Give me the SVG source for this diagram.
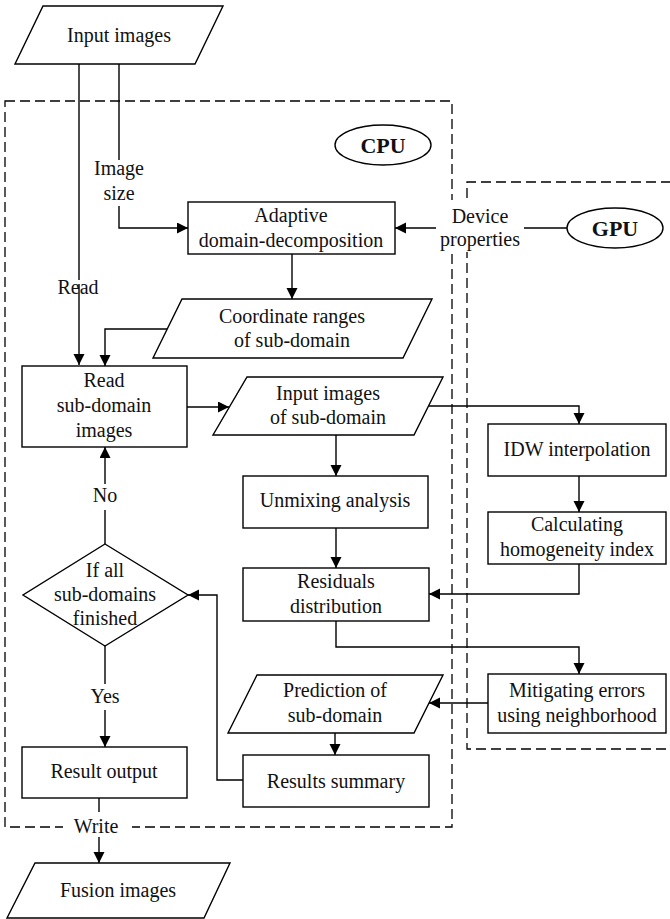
<svg xmlns="http://www.w3.org/2000/svg" width="670" height="919" viewBox="0 0 670 919">
<defs>
<marker id="arr" markerUnits="userSpaceOnUse" markerWidth="12" markerHeight="12" refX="11" refY="5.5" orient="auto">
<path d="M0,0 L11,5.5 L0,11 z" fill="#000"/>
</marker>
<style>
.n{fill:#fff;stroke:#000;stroke-width:1.4}
.t{font-family:"Liberation Serif","Times New Roman",serif;font-size:20px;fill:#111;text-anchor:middle}
.b{font-weight:bold;font-size:22px}
.c{fill:none;stroke:#000;stroke-width:1.4}
.d{fill:none;stroke:#000;stroke-width:1.3;stroke-dasharray:10,5}
.w{fill:#fff;stroke:none}
</style>
</defs>
<rect width="670" height="919" fill="#fff"/>
<g id="containers">
<rect id="cpu-region" class="d" x="5" y="101" width="447" height="726"/>
<path id="gpu-region" class="d" d="M671,182 H467 V749 H671"/>
</g>
<g id="connectors">
<path class="c" d="M79,64 V365" marker-end="url(#arr)"/>
<path class="c" d="M119,64 V228 H188" marker-end="url(#arr)"/>
<path class="c" d="M567,228 H395" marker-end="url(#arr)"/>
<path class="c" d="M292,254 V299" marker-end="url(#arr)"/>
<path class="c" d="M167,329 H105 V366" marker-end="url(#arr)"/>
<path class="c" d="M187,407 H229" marker-end="url(#arr)"/>
<path class="c" d="M429,406 H579 V424" marker-end="url(#arr)"/>
<path class="c" d="M336,435 V476" marker-end="url(#arr)"/>
<path class="c" d="M579,476 V512" marker-end="url(#arr)"/>
<path class="c" d="M579,564 V594 H429" marker-end="url(#arr)"/>
<path class="c" d="M336,528 V568" marker-end="url(#arr)"/>
<path class="c" d="M336,621 V647 H579 V674" marker-end="url(#arr)"/>
<path class="c" d="M488,703 H429" marker-end="url(#arr)"/>
<path class="c" d="M335,733 V755" marker-end="url(#arr)"/>
<path class="c" d="M243,780 H217 V595 H188" marker-end="url(#arr)"/>
<path class="c" d="M105,544 V447" marker-end="url(#arr)"/>
<path class="c" d="M105,646 V747" marker-end="url(#arr)"/>
<path class="c" d="M99,798 V863" marker-end="url(#arr)"/>
</g>
<g id="labels">
<rect class="w" x="96" y="160" width="46" height="46"/>
<text class="t" x="119" y="175">Image</text>
<text class="t" x="119" y="200">size</text>
<rect class="w" x="436" y="200" width="88" height="52"/>
<text class="t" x="480" y="223">Device</text>
<text class="t" x="480" y="246">properties</text>
<rect class="w" x="58" y="280" width="40" height="4"/>
<text class="t" x="78" y="294">Read</text>
<rect class="w" x="92" y="484" width="26" height="26"/>
<text class="t" x="105" y="502">No</text>
<rect class="w" x="89" y="684" width="32" height="26"/>
<text class="t" x="105" y="703">Yes</text>
<rect class="w" x="63" y="812" width="69" height="25"/>
<text class="t" x="96" y="833">Write</text>
</g>
<g id="input-images">
<polygon class="n" points="43,6 223,6 195,64 15,64"/>
<text class="t" x="119" y="42">Input images</text>
</g>
<g id="cpu">
<ellipse class="n" cx="383" cy="145" rx="48" ry="20"/>
<text class="t b" x="383" y="153">CPU</text>
</g>
<g id="gpu">
<ellipse class="n" cx="615" cy="228" rx="48" ry="20"/>
<text class="t b" x="615" y="236">GPU</text>
</g>
<g id="adaptive">
<rect class="n" x="188" y="202" width="207" height="52"/>
<text class="t" x="291" y="222">Adaptive</text>
<text class="t" x="291" y="247">domain-decomposition</text>
</g>
<g id="coordinate-ranges">
<polygon class="n" points="182,299 432,299 403,358 153,358"/>
<text class="t" x="292" y="323">Coordinate ranges</text>
<text class="t" x="292" y="347">of sub-domain</text>
</g>
<g id="read-sub-domain">
<rect class="n" x="22" y="366" width="165" height="81"/>
<text class="t" x="104" y="387">Read</text>
<text class="t" x="104" y="412">sub-domain</text>
<text class="t" x="104" y="437">images</text>
</g>
<g id="input-sub-domain">
<polygon class="n" points="247,377 443,377 414,435 213,435"/>
<text class="t" x="328" y="400">Input images</text>
<text class="t" x="328" y="424">of sub-domain</text>
</g>
<g id="idw">
<rect class="n" x="488" y="424" width="178" height="52"/>
<text class="t" x="577" y="456">IDW interpolation</text>
</g>
<g id="homogeneity">
<rect class="n" x="488" y="512" width="178" height="52"/>
<text class="t" x="577" y="531">Calculating</text>
<text class="t" x="577" y="556">homogeneity index</text>
</g>
<g id="unmixing">
<rect class="n" x="243" y="476" width="185" height="52"/>
<text class="t" x="335" y="507">Unmixing analysis</text>
</g>
<g id="residuals">
<rect class="n" x="243" y="568" width="186" height="53"/>
<text class="t" x="336" y="588">Residuals</text>
<text class="t" x="336" y="613">distribution</text>
</g>
<g id="decision">
<polygon class="n" points="105,544 188,595 105,646 23,595"/>
<text class="t" x="105" y="577">If all</text>
<text class="t" x="105" y="601">sub-domains</text>
<text class="t" x="105" y="625">finished</text>
</g>
<g id="mitigating">
<rect class="n" x="488" y="674" width="178" height="59"/>
<text class="t" x="577" y="697">Mitigating errors</text>
<text class="t" x="577" y="722">using neighborhood</text>
</g>
<g id="prediction">
<polygon class="n" points="257,675 443,675 414,733 228,733"/>
<text class="t" x="335" y="697">Prediction of</text>
<text class="t" x="335" y="722">sub-domain</text>
</g>
<g id="results-summary">
<rect class="n" x="243" y="755" width="186" height="52"/>
<text class="t" x="336" y="788">Results summary</text>
</g>
<g id="result-output">
<rect class="n" x="22" y="747" width="165" height="51"/>
<text class="t" x="104" y="778">Result output</text>
</g>
<g id="fusion-images">
<polygon class="n" points="35,863 230,863 204,918 7,918"/>
<text class="t" x="118" y="897">Fusion images</text>
</g>
</svg>
